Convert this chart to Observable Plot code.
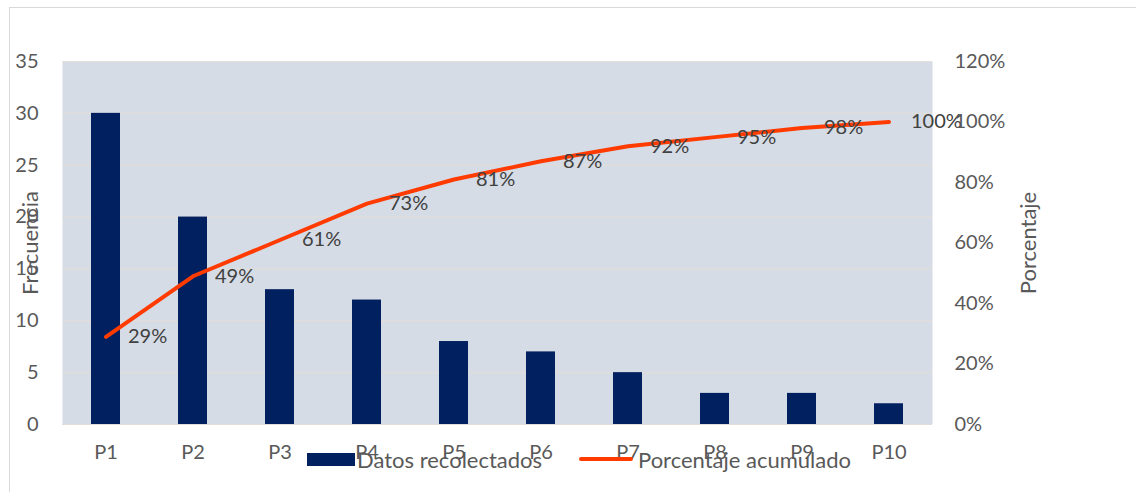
<!DOCTYPE html>
<html>
<head>
<meta charset="utf-8">
<script src="https://cdn.jsdelivr.net/npm/d3@7"></script>
<script src="https://cdn.jsdelivr.net/npm/@observablehq/plot@0.6"></script>
<style>
  html, body { margin: 0; padding: 0; background: #fff; overflow: hidden; }
  #chart { position: relative; width: 1136px; height: 492px; font-family: Lato, "Open Sans", sans-serif; }
  #border { position: absolute; left: 9px; top: 7px; width: 1200px; height: 600px;
            border-left: 1px solid #d9d9d9; border-top: 1px solid #d9d9d9; pointer-events: none; }
  #plot { position: absolute; left: 0; top: 0; }
  .legend-item { position: absolute; top: 447px; height: 24px; display: flex; align-items: center;
                 font-size: 22px; color: #595959; white-space: nowrap; }
  .sw-bar { width: 48px; height: 13px; background: #002060; margin-right: 2px; }
  .sw-line { width: 54px; height: 4px; border-radius: 2px; background: #ff3b00; margin-right: 5px; }
</style>
</head>
<body>
<div id="chart">
  <div id="border"></div>
  <div id="plot"></div>
  <div class="legend-item" style="left:307px"><div class="sw-bar"></div><span>Datos recolectados</span></div>
  <div class="legend-item" style="left:579px"><div class="sw-line"></div><span>Porcentaje acumulado</span></div>
</div>
<script>
// Pareto data: frequency per category and cumulative percentage
const categories = ["P1", "P2", "P3", "P4", "P5", "P6", "P7", "P8", "P9", "P10"];
const frequencies = [30, 20, 13, 12, 8, 7, 5, 3, 3, 2];
const cumulativePct = [29, 49, 61, 73, 81, 87, 92, 95, 98, 100];

// Axis tick values
const freqTicks = [0, 5, 10, 15, 20, 25, 30, 35];
const pctTicks = [0, 20, 40, 60, 80, 100, 120];

const freqMax = 35;   // left axis maximum
const pctMax = 120;   // right axis maximum
const pctToY = p => p / pctMax * freqMax;

const rows = categories.map((cat, i) => ({cat, freq: frequencies[i], pct: cumulativePct[i]}));

const chart = Plot.plot({
  width: 1136,
  height: 492,
  marginLeft: 62,
  marginRight: 204,
  marginTop: 61,
  marginBottom: 68,
  style: {fontFamily: "Lato, 'Open Sans', sans-serif", fontSize: "20px", color: "#595959", background: "transparent"},
  x: {domain: categories, paddingInner: 0.667, paddingOuter: 0.333, label: null},
  y: {domain: [0, freqMax], label: null},
  marks: [
    Plot.frame({fill: "#d6dce5", stroke: null}),
    Plot.gridY({ticks: freqTicks, stroke: "#e3ded9", strokeOpacity: 1, strokeWidth: 1}),
    Plot.barY(rows, {x: "cat", y: "freq", fill: "#002060"}),
    Plot.lineY(rows, {x: "cat", y: d => pctToY(d.pct), stroke: "#ff3b00", strokeWidth: 4, strokeLinecap: "round", strokeLinejoin: "round"}),
    Plot.text(rows, {x: "cat", y: d => pctToY(d.pct), text: d => `${d.pct}%`, dx: 22, textAnchor: "start", fill: "#404040", fontSize: 20}),
    Plot.axisX({tickSize: 0, tickPadding: 20, label: null}),
    Plot.axisY({ticks: freqTicks, anchor: "left", tickSize: 0, tickPadding: 24, label: null}),
    Plot.axisY({ticks: pctTicks.map(pctToY), anchor: "right", tickSize: 0, tickPadding: 22, label: null,
                tickFormat: v => `${Math.round(v / freqMax * pctMax)}%`, textAnchor: "start"}),
    // Axis titles, rotated and centred on the plot's height
    Plot.text(["Frecuencia"], {text: d => d, frameAnchor: "left", dx: -32, rotate: -90, textAnchor: "middle", lineAnchor: "middle", fontSize: 22, fill: "#595959"}),
    Plot.text(["Porcentaje"], {text: d => d, frameAnchor: "right", dx: 96, rotate: -90, textAnchor: "middle", lineAnchor: "middle", fontSize: 22, fill: "#595959"})
  ]
});

document.getElementById("plot").appendChild(chart);
</script>
</body>
</html>
